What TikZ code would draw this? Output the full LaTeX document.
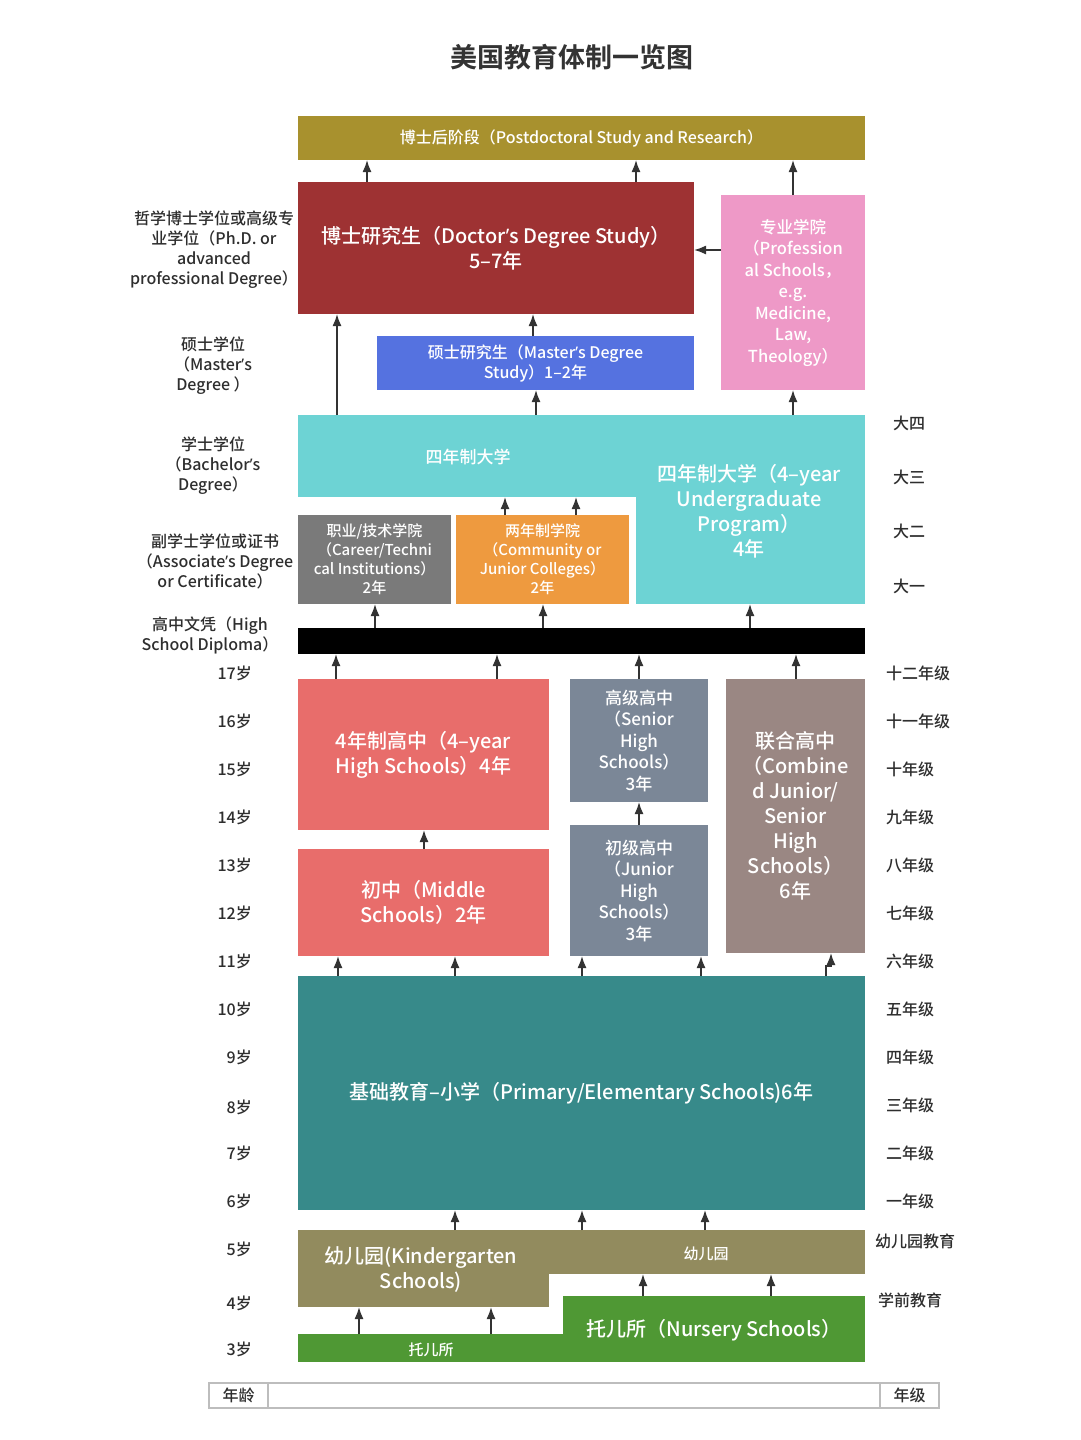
\documentclass[tikz,border=0pt]{standalone}
\usepackage{fontspec}
\IfFontExistsTF{Noto Sans CJK SC Medium}
  {\setmainfont{Noto Sans CJK SC Medium}[BoldFont={Noto Sans CJK SC Bold}]}
  {\setmainfont{Noto Sans CJK SC}}
\newfontfamily\latf{Noto Sans}
\usetikzlibrary{arrows.meta}

\definecolor{titc}{HTML}{333333}
\definecolor{txtc}{HTML}{2E2E2E}
\definecolor{arrc}{HTML}{333333}
\definecolor{postc}{HTML}{A8912E}
\definecolor{phdc}{HTML}{9E3233}
\definecolor{proc}{HTML}{EE99C7}
\definecolor{msc}{HTML}{5572E0}
\definecolor{ugc}{HTML}{6DD3D4}
\definecolor{carc}{HTML}{7A7A7A}
\definecolor{commc}{HTML}{EE9A3F}
\definecolor{hsc}{HTML}{E86D6B}
\definecolor{slatec}{HTML}{7B8797}
\definecolor{combc}{HTML}{9A8783}
\definecolor{primc}{HTML}{378A8A}
\definecolor{kgc}{HTML}{928B5E}
\definecolor{nurc}{HTML}{4F9834}
\definecolor{legc}{HTML}{BDBDBD}

\newcommand{\fsz}[2]{\fontsize{#1}{#2}\selectfont}
\newcommand{\ap}{{\latf ’}}

\tikzset{
blk/.style={inner sep=0pt, outer sep=0pt, anchor=north west, text=white, align=center},
lbl/.style={text=txtc, align=center, inner sep=0pt, font=\fsz{16}{20}},
cell/.style={draw=legc, line width=1.5pt, inner sep=0pt, outer sep=0pt, anchor=north west, text=txtc, font=\fsz{16}{20}},
arr/.style={draw=arrc, line width=1.6pt, -{Latex[length=12pt,width=9pt]}},
}

\begin{document}
\begin{tikzpicture}[x=1pt,y=-1pt]
\useasboundingbox[fill=white] (0,0) rectangle (1080,1440);

\node[text=titc, font=\fsz{27}{30}\bfseries] (title) at (572,57) {美国教育体制一览图};

\node[blk, fill=postc, minimum width=567pt, minimum height=44pt, font=\fsz{16}{20}] (post) at (298,116) {博士后阶段（Postdoctoral Study and Research）};
\node[blk, fill=phdc, minimum width=396pt, minimum height=132pt, font=\fsz{20}{25}] (phd) at (298,182) {博士研究生（Doctor\ap s Degree Study）\\5–7年};
\node[blk, fill=proc, minimum width=144pt, minimum height=195pt, font=\fsz{16.5}{21.5}] (pro) at (721,195) {专业学院\\（Profession\\al Schools，\\e.g.\\Medicine,\\Law,\\Theology）};
\node[blk, fill=msc, minimum width=317pt, minimum height=54pt, font=\fsz{16}{20}] (ms) at (377,336) {硕士研究生（Master\ap s Degree\\Study）1–2年};

\node[blk, fill=ugc, minimum width=229pt, minimum height=108pt] (ugr) at (636,496) {};
\node[blk, fill=ugc, minimum width=567pt, minimum height=82pt] (ugt) at (298,415) {};
\node[text=white, font=\fsz{17}{20}] (ugs) at (468,457) {四年制大学};
\node[text=white, align=center, font=\fsz{20}{25}] (ugl) at (749,511) {四年制大学（4–year\\Undergraduate\\Program）\\4年};

\node[blk, fill=carc, minimum width=153pt, minimum height=89pt, font=\fsz{15}{19}] (car) at (298,515) {职业/技术学院\\（Career/Techni\\cal Institutions）\\2年};
\node[blk, fill=commc, minimum width=173pt, minimum height=89pt, font=\fsz{15}{19}] (comm) at (456,515) {两年制学院\\（Community or\\Junior Colleges）\\2年};

\node[blk, fill=black, minimum width=567pt, minimum height=26pt] (bar) at (298,628) {};

\node[blk, fill=hsc, minimum width=251pt, minimum height=151pt, font=\fsz{20}{25}] (hs4) at (298,679) {4年制高中（4–year\\High Schools）4年};
\node[blk, fill=hsc, minimum width=251pt, minimum height=107pt, font=\fsz{20}{25}] (mid) at (298,849) {初中（Middle\\Schools）2年};
\node[blk, fill=slatec, minimum width=138pt, minimum height=123pt, font=\fsz{17}{21.5}] (shs) at (570,679) {高级高中\\（Senior\\High\\Schools）\\3年};
\node[blk, fill=slatec, minimum width=138pt, minimum height=131pt, font=\fsz{17}{21.5}] (jhs) at (570,825) {初级高中\\（Junior\\High\\Schools）\\3年};
\node[blk, fill=combc, minimum width=139pt, minimum height=274pt, font=\fsz{20}{25}] (comb) at (726,679) {联合高中\\（Combine\\d Junior/\\Senior\\High\\Schools）\\6年};

\node[blk, fill=primc, minimum width=567pt, minimum height=234pt, font=\fsz{20}{25}] (prim) at (298,976) {基础教育–小学（Primary/Elementary Schools)6年};

\node[blk, fill=kgc, minimum width=251pt, minimum height=34pt] (kgl) at (298,1273) {};
\node[blk, fill=kgc, minimum width=567pt, minimum height=44pt] (kgt) at (298,1230) {};
\node[text=white, align=center, font=\fsz{20}{25}] (kgs) at (421,1270) {幼儿园(Kindergarten\\Schools)};
\node[text=white, font=\fsz{15}{20}] (kgr) at (706,1254) {幼儿园};

\node[blk, fill=nurc, minimum width=266pt, minimum height=28pt] (ngl) at (298,1334) {};
\node[blk, fill=nurc, minimum width=302pt, minimum height=66pt] (ngr) at (563,1296) {};
\node[text=white, font=\fsz{15}{20}] (ngs) at (431,1350) {托儿所};
\node[text=white, font=\fsz{20}{25}] (ngb) at (714,1330) {托儿所（Nursery Schools）};

\foreach \lo/\up/\x in {phd/post/367, phd/post/636, pro/post/793, ugt/phd/337, ms/phd/533, ugt/ms/536, ugt/pro/793,
  comm/ugt/505, comm/ugt/576, bar/car/375, bar/comm/543, bar/ugr/750, hs4/bar/336, hs4/bar/497, shs/bar/639, comb/bar/796,
  mid/hs4/424, jhs/shs/639, prim/mid/338, prim/mid/455, prim/jhs/582, prim/jhs/701,
  kgt/prim/455, kgt/prim/582, kgt/prim/705, ngr/kgt/643, ngr/kgt/771, ngl/kgl/359, ngl/kgl/491}
  \draw[arr] (\lo.north -| \x,0) -- (\up.south -| \x,0);
\draw[arr] (pro.west |- 0,250) -- (phd.east |- 0,250);
\draw[arr] (prim.north -| 826,0) -- ++(0,-10) -| (comb.south -| 831,0);

\node[lbl] (lphd) at (214,250) {哲学博士学位或高级专\\业学位（Ph.D. or\\advanced\\professional Degree）};
\node[lbl] (lms) at (213,366) {硕士学位\\（Master\ap s\\Degree ）};
\node[lbl] (lba) at (213,466) {学士学位\\（Bachelor\ap s\\Degree）};
\node[lbl] (las) at (215,561) {副学士学位或证书\\（Associate\ap s Degree\\or Certificate）};
\node[lbl] (lhs) at (210,635) {高中文凭（High\\School Diploma）};

\foreach \a/\y in {17/673, 16/721, 15/769, 14/817, 13/865, 12/913, 11/961, 10/1009, 9/1057, 8/1107, 7/1153, 6/1201, 5/1249, 4/1303, 3/1349}
  \node[lbl, anchor=east] (age\y) at (252,\y) {\a{}岁};
\foreach \g/\y in {十二/673, 十一/721, 十/769, 九/817, 八/865, 七/913, 六/961, 五/1009, 四/1057, 三/1105, 二/1153, 一/1201}
  \node[lbl, anchor=west] (gr\y) at (886,\y) {\g{}年级};
\foreach \u/\y in {四/423, 三/477, 二/531, 一/586}
  \node[lbl, anchor=west] (yr\y) at (893,\y) {大\u{}};
\node[lbl, anchor=west] (lkg) at (875,1241) {幼儿园教育};
\node[lbl, anchor=west] (lpre) at (878,1300) {学前教育};

\node[cell, minimum width=59pt, minimum height=25pt] (lg1) at (209,1383) {年龄};
\node[cell, minimum width=612pt, minimum height=25pt] (lg2) at (lg1.north east) {};
\node[cell, minimum width=59pt, minimum height=25pt] (lg3) at (lg2.north east) {年级};
\end{tikzpicture}
\end{document}
